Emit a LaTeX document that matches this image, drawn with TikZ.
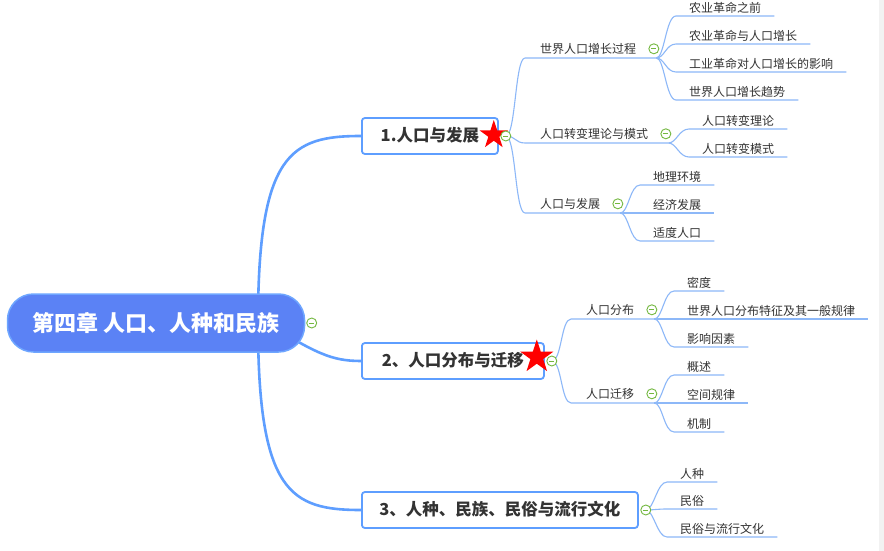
\documentclass[tikz,border=0pt]{standalone}
\usepackage{fontspec}
\newfontfamily\cjk{Noto Sans CJK SC}
\usetikzlibrary{positioning,shapes.geometric}

\definecolor{rootblue}{HTML}{5B82F5}
\definecolor{rootedge}{HTML}{6EA6FF}
\definecolor{linkblue}{HTML}{5E9EFF}
\definecolor{twigblue}{HTML}{8DB8F8}
\definecolor{togglegreen}{HTML}{73B83F}
\definecolor{textgray}{HTML}{333333}
\definecolor{stripgray}{HTML}{F2F2F2}

\tikzset{
  rootnode/.style={draw=rootedge, fill=rootblue, line width=1.5pt, rounded corners=26pt,
    minimum width=297pt, minimum height=58pt, text=white,
    font=\cjk\bfseries\fontsize{22}{22}\selectfont},
  topic/.style={draw=linkblue, fill=white, line width=1.8pt, rounded corners=3pt, anchor=west,
    minimum height=36pt, text=textgray, text height=13pt, text depth=3pt,
    font=\cjk\bfseries\fontsize{16.5}{16.5}\selectfont},
  sub/.style={anchor=south west, inner xsep=15pt, inner ysep=4pt, text=textgray,
    text height=10pt, text depth=0pt, font=\cjk\fontsize{12}{12}\selectfont},
  leaf/.style={sub, inner xsep=13pt, inner ysep=3pt},
  trunk/.style={draw=linkblue, line width=2.6pt},
  twig/.style={draw=twigblue, line width=1.1pt},
  redstar/.style={star, star points=5, star point ratio=2.6, fill=red, inner sep=0pt},
  toggle/.style={circle, draw=togglegreen, fill=white, line width=0.9pt, minimum size=10pt, inner sep=0pt,
    path picture={\draw[togglegreen, line width=1pt]
      ([xshift=-2.6pt]path picture bounding box.center) -- ([xshift=2.6pt]path picture bounding box.center);}},
}

\begin{document}
\begin{tikzpicture}[x=1pt,y=-1pt]

  % white page, grey strip on the right
  \useasboundingbox (0,0) rectangle (884,551);
  \fill[white] (0,0) rectangle (884,551);
  \fill[stripgray] (879,0) rectangle (884,551);

  % the three chapters
  \node[topic, minimum width=136pt] (t1) at (361,136) {1.人口与发展};
  \node[topic, minimum width=182pt] (t2) at (361,361) {2、人口分布与迁移};
  \node[topic, minimum width=276pt] (t3) at (361,510) {3、人种、民族、民俗与流行文化};

  % thick branches out of the root
  \coordinate (rc) at (156,323);
  \draw[trunk] ([xshift=102pt]rc) .. controls +(0,-170) and +(-70,0) .. (t1.west);
  \draw[trunk] ([xshift=110pt]rc) .. controls +(50,30) and +(-30,0) .. (t2.west);
  \draw[trunk] ([xshift=102pt]rc) .. controls +(0,170) and +(-70,0) .. (t3.west);
  \node[rootnode] (root) at (rc) {第四章 人口、人种和民族};

  % stars on chapter 1 and 2
  \node[redstar, minimum size=30pt] (star1) at ([xshift=-5pt,yshift=1pt]t1.east) {};
  \node[redstar, minimum size=35pt] (star2) at ([xshift=-8pt,yshift=4pt]t2.east) {};

  % fork points behind the chapter toggles
  \coordinate (c1) at ([xshift=7pt]t1.east);
  \coordinate (c2) at ([xshift=7pt]t2.east);
  \coordinate (c3) at ([xshift=7pt]t3.east);

  % second level
  \node[sub] (s11) at (525,58) {世界人口增长过程};
  \node[sub] (s12) at (525,143) {人口转变理论与模式};
  \node[sub] (s13) at (525,213) {人口与发展};
  \node[sub] (s21) at (571,319) {人口分布};
  \node[sub] (s22) at (571,403) {人口迁移};

  \foreach \s in {s11,s12,s13} {
    \draw[twig] (c1) .. controls +(10,0) and +(-10,0) .. (\s.south west) -- ([xshift=5pt]\s.south east);
  }
  \foreach \s in {s21,s22} {
    \draw[twig] (c2) .. controls +(10,0) and +(-10,0) .. (\s.south west) -- ([xshift=5pt]\s.south east);
  }
  \foreach \s in {s11,s12,s13,s21,s22} {
    \coordinate (f\s) at ([xshift=5pt]\s.south east);
  }

  % leaves
  \foreach \y/\txt [count=\i] in {16/农业革命之前, 44/农业革命与人口增长,
      72/工业革命对人口增长的影响, 100/世界人口增长趋势} {
    \node[leaf] (la\i) at (676,\y) {\txt};
    \draw[twig] (fs11) .. controls +(8,0) and +(-10,0) .. (la\i.south west) -- (la\i.south east);
  }
  \foreach \y/\txt [count=\i] in {129/人口转变理论, 157/人口转变模式} {
    \node[leaf] (lb\i) at (689,\y) {\txt};
    \draw[twig] (fs12) .. controls +(8,0) and +(-10,0) .. (lb\i.south west) -- (lb\i.south east);
  }
  \foreach \y/\txt [count=\i] in {185/地理环境, 213/经济发展, 241/适度人口} {
    \node[leaf] (lc\i) at (640,\y) {\txt};
    \draw[twig] (fs13) .. controls +(8,0) and +(-10,0) .. (lc\i.south west) -- (lc\i.south east);
  }
  \foreach \y/\txt [count=\i] in {291/密度, 319/世界人口分布特征及其一般规律, 347/影响因素} {
    \node[leaf] (ld\i) at (674,\y) {\txt};
    \draw[twig] (fs21) .. controls +(8,0) and +(-10,0) .. (ld\i.south west) -- (ld\i.south east);
  }
  \foreach \y/\txt [count=\i] in {375/概述, 403/空间规律, 432/机制} {
    \node[leaf] (le\i) at (674,\y) {\txt};
    \draw[twig] (fs22) .. controls +(8,0) and +(-10,0) .. (le\i.south west) -- (le\i.south east);
  }
  \foreach \y/\txt [count=\i] in {482/人种, 509/民俗, 537/民俗与流行文化} {
    \node[leaf] (lf\i) at (667,\y) {\txt};
    \draw[twig] (c3) .. controls +(8,0) and +(-10,0) .. (lf\i.south west) -- (lf\i.south east);
  }

  % collapse toggles
  \node[toggle, right=1pt of root] (g0) {};
  \node[toggle] (g1) at (c1) {};
  \node[toggle] (g2) at (c2) {};
  \node[toggle] (g3) at (c3) {};
  \foreach \s in {s11,s12,s13,s21,s22} {
    \node[toggle, right=-3pt of \s] (g\s) {};
  }

\end{tikzpicture}
\end{document}
